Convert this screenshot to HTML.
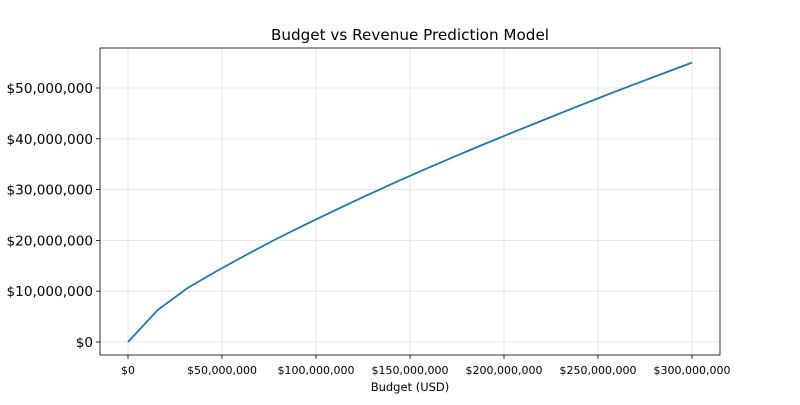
<!DOCTYPE html>
<html><head><meta charset="utf-8"><style>
body{margin:0;background:#fff;}
svg text{font-family:"DejaVu Sans","Liberation Sans",sans-serif;fill:#000;}
</style></head><body>
<svg id="chart" width="800" height="400"></svg>
<script>
const budgets=[0,15.79,31.58,47.37,63.16,78.95,94.74,110.53,126.32,142.11,157.89,173.68,189.47,205.26,221.05,236.84,252.63,268.42,284.21,300];
const revenues=[0,6.3,10.6,14.0,17.2,20.3,23.2,26.0,28.75,31.4,34.0,36.5,38.95,41.35,43.7,46.05,48.35,50.6,52.8,55.0];
const xTicks=[0,50,100,150,200,250,300];
const xTickLabels=["$0","$50,000,000","$100,000,000","$150,000,000","$200,000,000","$250,000,000","$300,000,000"];
const yTicks=[0,10,20,30,40,50];
const yTickLabels=["$0","$10,000,000","$20,000,000","$30,000,000","$40,000,000","$50,000,000"];
const svg=document.getElementById('chart');
const NS='http://www.w3.org/2000/svg';
const L=100,R=720,T=48,B=355;
const xs=v=>128+v*(692-128)/300;
const ys=v=>342-v*(342-88)/50;
function mk(tag,attrs,parent){const e=document.createElementNS(NS,tag);for(const k in attrs)e.setAttribute(k,attrs[k]);(parent||svg).appendChild(e);return e;}
xTicks.forEach((t,i)=>{
  const g=mk('line',{x1:xs(t),x2:xs(t),y1:T,y2:B,stroke:'#e0e0e0','stroke-width':0.8});
  
  
  mk('line',{x1:xs(t),x2:xs(t),y1:B,y2:B+4,stroke:'#000','stroke-width':0.8});
  const tx=mk('text',{x:xs(t),y:374,'font-size':11,'text-anchor':'middle'});
  tx.textContent=xTickLabels[i];
  
  
});
yTicks.forEach((t,i)=>{
  const g=mk('line',{x1:L,x2:R,y1:ys(t),y2:ys(t),stroke:'#e0e0e0','stroke-width':0.8});
  
  
  mk('line',{x1:L-4,x2:L,y1:ys(t),y2:ys(t),stroke:'#000','stroke-width':0.8});
  const tx=mk('text',{x:L-7,y:ys(t)+5,'font-size':13.6,'text-anchor':'end'});
  tx.textContent=yTickLabels[i];
  
  
});
const line=mk('polyline',{points:budgets.map((b,i)=>xs(b)+','+ys(revenues[i])).join(' '),fill:'none',stroke:'#1f77b4','stroke-width':1.8});


const frame=mk('rect',{x:L,y:T,width:R-L,height:B-T,fill:'none',stroke:'#000','stroke-width':0.8});


const title=mk('text',{x:410,y:40,'font-size':15.2,'text-anchor':'middle'});
title.textContent='Budget vs Revenue Prediction Model';


const xl=mk('text',{x:410,y:391,'font-size':11.5,'text-anchor':'middle'});
xl.textContent='Budget (USD)';


</script>
</body></html>
